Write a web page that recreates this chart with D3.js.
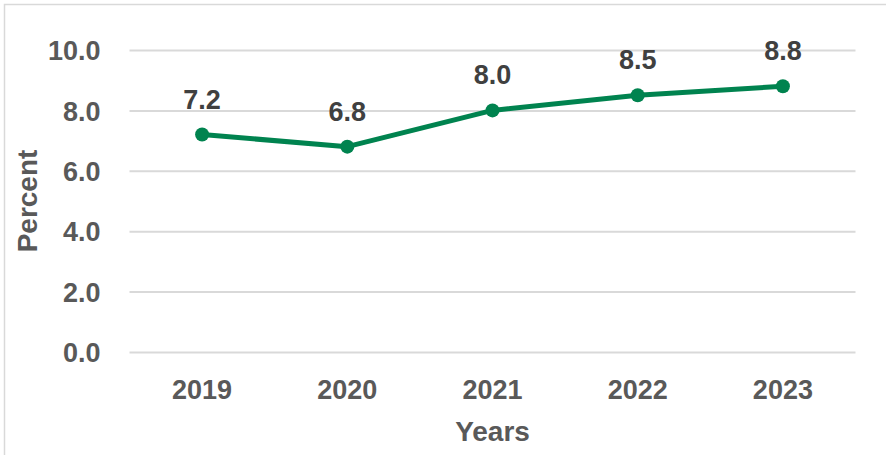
<!DOCTYPE html>
<html>
<head>
<meta charset="utf-8">
<script src="https://cdn.jsdelivr.net/npm/d3@7"></script>
<style>
  html, body { margin: 0; padding: 0; background: #fff; }
  svg { display: block; }
  text { font-family: "Liberation Sans", Arial, sans-serif; font-weight: bold; }
</style>
</head>
<body>
<svg id="chart" width="886" height="455"></svg>
<script>
// Annual share, in percent
const years = ["2019", "2020", "2021", "2022", "2023"];
const values = [7.2, 6.8, 8.0, 8.5, 8.8];
const yTicks = [0, 2, 4, 6, 8, 10];

const width = 886, height = 455;
const plot = { left: 129.5, right: 855.5, top: 50, bottom: 352 };

const svg = d3.select("#chart");

// outer frame
svg.append("rect")
  .attr("x", 4.5).attr("y", 4.5)
  .attr("width", width + 10).attr("height", height + 10)
  .attr("fill", "none").attr("stroke", "#d9d9d9").attr("stroke-width", 1.5);

const x = d3.scaleBand().domain(years).range([plot.left, plot.right]);
const y = d3.scaleLinear().domain([0, 10]).range([plot.bottom, plot.top]);

// horizontal gridlines + y tick labels
const yAxis = d3.axisLeft(y).tickValues(yTicks).tickFormat(d3.format(".1f"))
  .tickSize(-(plot.right - plot.left)).tickPadding(29);
const gy = svg.append("g").attr("transform", `translate(${plot.left},0)`).call(yAxis);
gy.select(".domain").remove();
gy.selectAll(".tick line").attr("stroke", "#d9d9d9").attr("stroke-width", 2);
gy.selectAll(".tick text")
  .attr("fill", "#595959").attr("font-size", 27).attr("dy", "0.36em")
  .style("font-family", "'Liberation Sans', Arial, sans-serif").style("font-weight", "bold");

// x category labels
const xAxis = d3.axisBottom(x).tickSize(0).tickPadding(28);
const gx = svg.append("g").attr("transform", `translate(0,${plot.bottom})`).call(xAxis);
gx.select(".domain").remove();
gx.selectAll(".tick text")
  .attr("fill", "#595959").attr("font-size", 27)
  .style("font-family", "'Liberation Sans', Arial, sans-serif").style("font-weight", "bold");

const cx = d => x(d) + x.bandwidth() / 2;

// series line
const line = d3.line().x((d, i) => cx(years[i])).y(d => y(d));
svg.append("path").datum(values)
  .attr("d", line)
  .attr("fill", "none").attr("stroke", "#00834F").attr("stroke-width", 5)
  .attr("stroke-linejoin", "round");

// markers
svg.append("g").selectAll("circle").data(values).join("circle")
  .attr("cx", (d, i) => cx(years[i])).attr("cy", d => y(d))
  .attr("r", 7).attr("fill", "#00834F");

// value labels
svg.append("g").selectAll("text").data(values).join("text")
  .attr("x", (d, i) => cx(years[i])).attr("y", d => y(d) - 26)
  .attr("text-anchor", "middle").attr("font-size", 27).attr("fill", "#404040")
  .text(d => d3.format(".1f")(d));

// axis titles
svg.append("text")
  .attr("x", (plot.left + plot.right) / 2).attr("y", 441)
  .attr("text-anchor", "middle").attr("font-size", 28).attr("fill", "#595959")
  .text("Years");

svg.append("text")
  .attr("transform", `translate(37,${(plot.top + plot.bottom) / 2}) rotate(-90)`)
  .attr("text-anchor", "middle").attr("font-size", 28).attr("fill", "#595959")
  .text("Percent");
</script>
</body>
</html>
